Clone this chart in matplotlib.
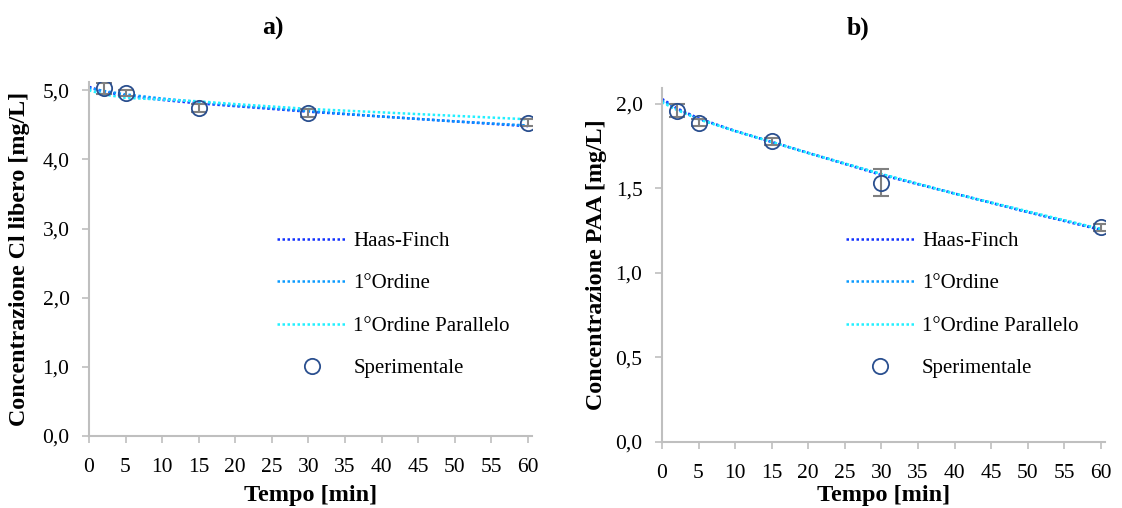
import matplotlib
matplotlib.use("Agg")
import matplotlib.pyplot as plt
from matplotlib.ticker import FuncFormatter, MultipleLocator

plt.rcParams["font.family"] = ["Liberation Serif", "DejaVu Serif"]

# Sampling times (min) for the fitted kinetic models
t_model = [0, 2, 5, 10, 15, 20, 30, 40, 50, 60]

# a) free chlorine
cl_haas_finch = [5.05, 4.98, 4.92, 4.86, 4.81, 4.77, 4.69, 4.62, 4.55, 4.48]
cl_first_order = [5.03, 4.99, 4.94, 4.88, 4.83, 4.78, 4.70, 4.62, 4.55, 4.49]
cl_parallel = [5.00, 4.94, 4.89, 4.865, 4.84, 4.80, 4.73, 4.68, 4.63, 4.58]

# b) peracetic acid
paa_haas_finch = [2.03, 1.975, 1.915, 1.84, 1.775, 1.71, 1.58, 1.47, 1.36, 1.255]
paa_first_order = [2.02, 1.97, 1.91, 1.84, 1.775, 1.71, 1.585, 1.47, 1.36, 1.26]
paa_parallel = [2.01, 1.965, 1.91, 1.84, 1.775, 1.71, 1.585, 1.47, 1.365, 1.26]

# Experimental measurements
t_exp = [2, 5, 15, 30, 60]
cl_exp = [5.03, 4.96, 4.74, 4.67, 4.53]
cl_err = [0.08, 0.05, 0.06, 0.06, 0.05]
paa_exp = [1.96, 1.89, 1.78, 1.535, 1.27]
paa_err = [0.04, 0.02, 0.02, 0.08, 0.02]

labels = ["Haas-Finch", "1°Ordine", "1°Ordine Parallelo", "Sperimentale"]
x_ticks = list(range(0, 61, 5))

c_hf = "#1030FF"
c_fo = "#0A9BFF"
c_par = "#22F0FF"
c_pt = "#2A4F8F"
c_axis = "#BFBFBF"

fig = plt.figure(figsize=(11.22, 5.08), dpi=100)
ax_a = fig.add_axes([0.0793, 0.1417, 0.395, 0.697])
ax_b = fig.add_axes([0.5900, 0.1300, 0.395, 0.697])

comma = FuncFormatter(lambda v, p: f"{v:.1f}".replace(".", ","))


def draw(ax, hf, fo, par, c, err, ymax, ystep, ylabel, legend_anchor,
         xlabel_y, ylabel_x):
    lw = 1.8
    ax.plot(t_model, hf, linestyle=(0, (1, 1)), color=c_hf, lw=lw, label=labels[0])
    ax.plot(t_model, fo, linestyle=(0, (1, 1)), color=c_fo, lw=lw, label=labels[1])
    ax.plot(t_model, par, linestyle=(0, (1, 1)), color=c_par, lw=lw, label=labels[2])
    ax.errorbar(t_exp, c, yerr=err, fmt="none", ecolor="#808080",
                elinewidth=1.5, capsize=6, capthick=1.5, zorder=4)
    ax.plot(t_exp, c, "o", ms=11, mfc="none", mec=c_pt, mew=1.3,
            label=labels[3], zorder=5)

    ax.set_xlim(0, 60.6)
    ax.set_ylim(0, ymax)
    ax.set_xticks(x_ticks)
    ax.yaxis.set_major_locator(MultipleLocator(ystep))
    ax.yaxis.set_major_formatter(comma)
    for s in ("top", "right"):
        ax.spines[s].set_visible(False)
    for s in ("left", "bottom"):
        ax.spines[s].set_color(c_axis)
        ax.spines[s].set_linewidth(1.5)
    ax.tick_params(colors=c_axis, labelcolor="black", labelsize=15.5,
                   width=1.2, length=5, direction="out")
    ax.tick_params(axis="x", pad=11)
    ax.tick_params(axis="y", pad=9)
    ax.set_xlabel("Tempo [min]", fontsize=17.5, fontweight="bold", va="center")
    ax.xaxis.set_label_coords(0.5, xlabel_y)
    ax.set_ylabel(ylabel, fontsize=17.3, fontweight="bold", va="center")
    ax.yaxis.set_label_coords(ylabel_x, 0.5)

    leg = ax.legend(loc="upper left", bbox_to_anchor=legend_anchor,
                    frameon=False, fontsize=15, handlelength=3.3,
                    handletextpad=0.35, labelspacing=1.1, borderpad=0,
                    borderaxespad=0)
    return leg


draw(ax_a, cl_haas_finch, cl_first_order, cl_parallel, cl_exp, cl_err,
     5.12, 1.0, "Concentrazione Cl libero [mg/L]", (0.425, 0.578),
     -0.169, -0.156)
draw(ax_b, paa_haas_finch, paa_first_order, paa_parallel, paa_exp, paa_err,
     2.095, 0.5, "Concentrazione PAA [mg/L]", (0.415, 0.595),
     -0.1525, -0.147)

fig.text(273 / 1122, 1 - 28 / 508, "a)", fontsize=18.5, fontweight="bold",
         ha="center", va="center")
fig.text(858 / 1122, 1 - 28 / 508, "b)", fontsize=18.5, fontweight="bold",
         ha="center", va="center")

fig.savefig("out.png", dpi=100)
